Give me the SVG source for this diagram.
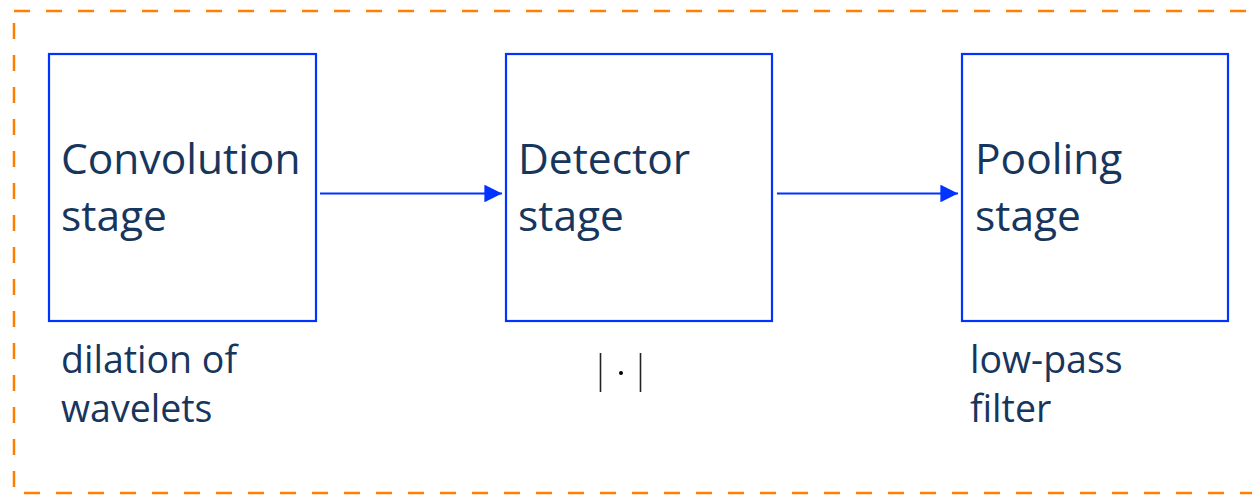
<svg xmlns="http://www.w3.org/2000/svg" width="1252" height="495" viewBox="0 0 1252 495">
<style>
.box{fill:#fff;stroke:#0033ff;stroke-width:2.2}
.t{font-family:"Open Sans","Noto Sans",sans-serif;fill:#17365d}
.big{font-size:42.5px}
.sm{font-size:37.5px}
.edge{stroke:#0033ff;stroke-width:2.2;fill:none}
</style>
<defs>
<marker id="ah" markerWidth="8" markerHeight="8" refX="8" refY="4" orient="auto" markerUnits="strokeWidth">
<path d="M0,0 L8,4 L0,8 Z" fill="#0033ff"/>
</marker>
</defs>
<rect width="1252" height="495" fill="#fff"/>
<rect x="14" y="11" width="1260" height="482" fill="none" stroke="#ff8000" stroke-width="2.5" stroke-dasharray="16,16"/>
<g id="conv">
<rect class="box" x="49" y="54" width="267" height="267"/>
<text class="t big" x="61" y="174">Convolution</text>
<text class="t big" x="61" y="231">stage</text>
</g>
<g id="detector">
<rect class="box" x="506" y="54" width="266" height="267"/>
<text class="t big" x="518" y="174">Detector</text>
<text class="t big" x="518" y="231">stage</text>
</g>
<g id="pooling">
<rect class="box" x="962" y="54" width="266" height="267"/>
<text class="t big" x="975" y="174">Pooling</text>
<text class="t big" x="975" y="231">stage</text>
</g>
<g id="labels">
<text class="t sm" x="61" y="373">dilation of</text>
<text class="t sm" x="61" y="422">wavelets</text>
<text class="t sm" x="970" y="373">low-pass</text>
<text class="t sm" x="970" y="422">filter</text>
<g id="abs" stroke="#222" stroke-width="1.6">
<line x1="600.5" y1="353" x2="600.5" y2="392"/>
<line x1="640.5" y1="353" x2="640.5" y2="392"/>
<circle cx="621" cy="373" r="2" fill="#000" stroke="none"/>
</g>
</g>
<g id="connectors">
<line class="edge" x1="320" y1="193.5" x2="502" y2="193.5" marker-end="url(#ah)"/>
<line class="edge" x1="777" y1="193.5" x2="958" y2="193.5" marker-end="url(#ah)"/>
</g>
</svg>
